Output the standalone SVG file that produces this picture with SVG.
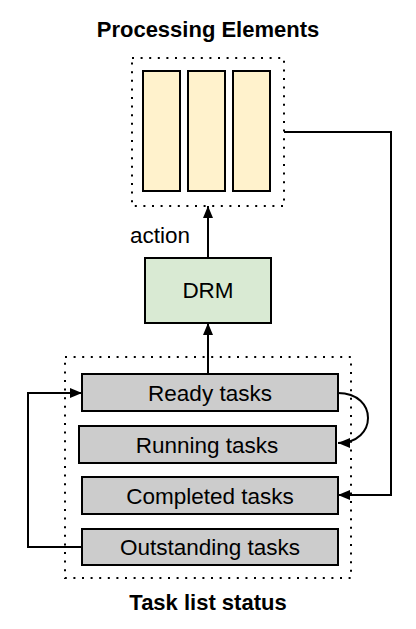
<svg xmlns="http://www.w3.org/2000/svg" width="416" height="629" viewBox="0 0 416 629">
<style>
.dot{fill:none;stroke:#000;stroke-width:2;stroke-dasharray:2 6.6}
.pe{fill:#fff2cc;stroke:#000;stroke-width:2}
.task{fill:#cccccc;stroke:#000;stroke-width:2}
.drm{fill:#d9ead3;stroke:#000;stroke-width:2}
.lbl{font-family:"Liberation Sans",Arial,sans-serif;font-size:22.5px;fill:#000;text-anchor:middle}
.title{font-family:"Liberation Sans",Arial,sans-serif;font-size:22px;font-weight:bold;fill:#000;text-anchor:middle}
.edge{fill:none;stroke:#000;stroke-width:2}
</style>
<defs>
<marker id="ah" markerUnits="userSpaceOnUse" markerWidth="12" markerHeight="10" refX="12" refY="5" orient="auto">
<path d="M0,0 L12,5 L0,10 Z" fill="#000"/>
</marker>
</defs>
<rect width="416" height="629" fill="#fff"/>
<g id="pe">
<text class="title" x="208" y="37">Processing Elements</text>
<rect class="dot" x="132" y="58" width="152" height="148"/>
<rect class="pe" x="143" y="71" width="37" height="120"/>
<rect class="pe" x="188" y="71" width="37" height="120"/>
<rect class="pe" x="233" y="71" width="37" height="120"/>
</g>
<g id="drm">
<rect class="drm" x="145" y="258" width="126" height="65"/>
<text class="lbl" x="208" y="298">DRM</text>
</g>
<g id="tasklist">
<rect class="dot" x="65" y="357" width="286" height="221"/>
<text class="title" x="208" y="610">Task list status</text>
</g>
<g id="ready">
<rect class="task" x="82" y="374" width="256" height="37"/>
<text class="lbl" x="210" y="401">Ready tasks</text>
</g>
<g id="running">
<rect class="task" x="79" y="426" width="257" height="37"/>
<text class="lbl" x="207" y="453">Running tasks</text>
</g>
<g id="completed">
<rect class="task" x="82" y="477" width="256" height="37"/>
<text class="lbl" x="210" y="504">Completed tasks</text>
</g>
<g id="outstanding">
<rect class="task" x="82" y="529" width="256" height="36"/>
<text class="lbl" x="210" y="555">Outstanding tasks</text>
</g>
<g id="connectors">
<path class="edge" d="M208,258 V206" marker-end="url(#ah)"/>
<text class="lbl" x="160" y="243">action</text>
<path class="edge" d="M208,374 V323" marker-end="url(#ah)"/>
<path class="edge" d="M338,393 C378,393 378,443 338,443" marker-end="url(#ah)"/>
<path class="edge" d="M82,547 H28 V393 H82" marker-end="url(#ah)"/>
<path class="edge" d="M284,132 H391 V495 H338" marker-end="url(#ah)"/>
</g>
</svg>
